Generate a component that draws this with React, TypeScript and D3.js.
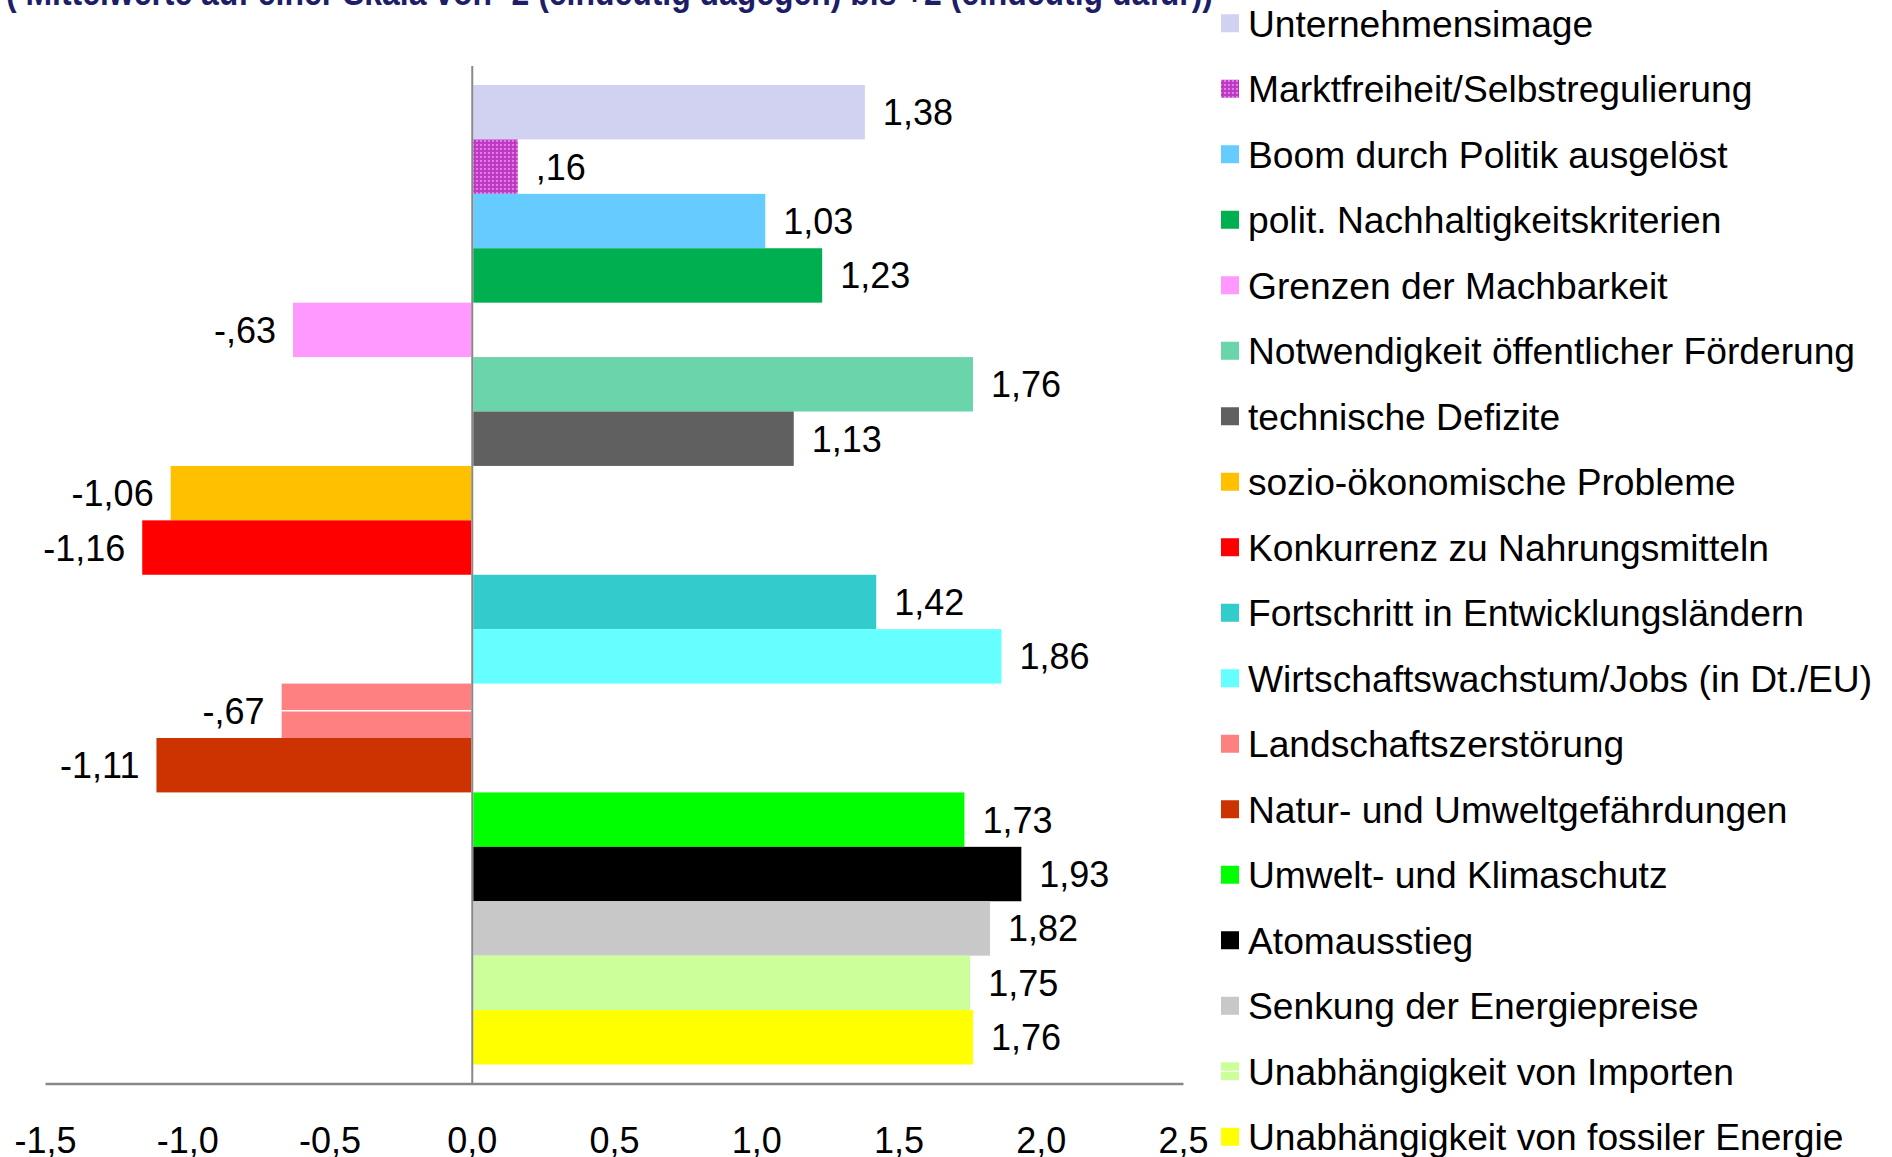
import React from 'react';
import * as d3 from 'd3';

const categories = [
  'Unternehmensimage',
  'Marktfreiheit/Selbstregulierung',
  'Boom durch Politik ausgelöst',
  'polit. Nachhaltigkeitskriterien',
  'Grenzen der Machbarkeit',
  'Notwendigkeit öffentlicher Förderung',
  'technische Defizite',
  'sozio-ökonomische Probleme',
  'Konkurrenz zu Nahrungsmitteln',
  'Fortschritt in Entwicklungsländern',
  'Wirtschaftswachstum/Jobs (in Dt./EU)',
  'Landschaftszerstörung',
  'Natur- und Umweltgefährdungen',
  'Umwelt- und Klimaschutz',
  'Atomausstieg',
  'Senkung der Energiepreise',
  'Unabhängigkeit von Importen',
  'Unabhängigkeit von fossiler Energie',
];

const values = [1.38, 0.16, 1.03, 1.23, -0.63, 1.76, 1.13, -1.06, -1.16, 1.42, 1.86, -0.67, -1.11, 1.73, 1.93, 1.82, 1.75, 1.76];

const colors = [
  '#d1d1f2', 'url(#dots)', '#66ccff', '#00b050', '#ff99ff', '#6ad4aa', '#606060', '#ffc000', '#ff0000',
  '#33cccc', '#66ffff', '#ff8080', '#cc3300', '#00ff00', '#000000', '#c8c8c8', '#ccff99', '#ffff00',
];

const tickValues = [-1.5, -1.0, -0.5, 0.0, 0.5, 1.0, 1.5, 2.0, 2.5];

const title = '( Mittelwerte auf einer Skala von -2 (eindeutig dagegen) bis +2 (eindeutig dafür))';

const W = 1892;
const H = 1157;
const font = '"Liberation Sans", Arial, sans-serif';

// 1,38 / ,16 / -,63 / -1,06 like the SPSS output
const fmtValue = (v: number) => {
  const s = Math.abs(v).toFixed(2).replace('.', ',').replace(/^0,/, ',');
  return (v < 0 ? '-' : '') + s;
};
const fmtTick = (v: number) => v.toFixed(1).replace('.', ',');

const App = () => {
  const x = d3.scaleLinear().domain([-1.5, 2.5]).range([45.5, 1183.5]);
  const y = d3.scaleBand<string>().domain(categories).range([85, 1064.5]).padding(0);
  const axisY = 1084;
  const legendY = d3.scaleBand<string>().domain(categories).range([-9.5, 1169.5]);

  return (
    <svg width={W} height={H} style={{ position: 'absolute', left: 0, top: 0 }} fontFamily={font}>
      <defs>
        <pattern id="dots" width={4} height={4} patternUnits="userSpaceOnUse">
          <rect width={4} height={4} fill="#c03cc4" />
          <rect x={0} y={0} width={2} height={2} fill="#e07ae6" />
          <rect x={2} y={2} width={1} height={1} fill="#a828b0" />
        </pattern>
      </defs>
      <rect width={W} height={H} fill="#fff" />

      <text x={6} y={5} fontSize={36} fontWeight="bold" fill="#1e1e68" textLength={1207} lengthAdjust="spacingAndGlyphs">
        {title}
      </text>

      {categories.map((c, i) => {
        const v = values[i];
        const x0 = v < 0 ? x(v) : x(0) + 1;
        const w = Math.abs(x(v) - x(0)) - 1;
        const yy = y(c)!;
        return (
          <g key={c}>
            <rect x={x0} y={yy} width={w} height={y.bandwidth()} fill={colors[i]} />
            {c === 'Landschaftszerstörung' && (
              <line x1={x0} x2={x0 + w} y1={yy + y.bandwidth() / 2} y2={yy + y.bandwidth() / 2} stroke="#fff" strokeWidth={1.5} />
            )}
            <text
              x={v < 0 ? x(v) - 17 : x(v) + 18}
              y={yy + y.bandwidth() / 2}
              dy="0.36em"
              fontSize={36}
              textAnchor={v < 0 ? 'end' : 'start'}
              fill="#000"
            >
              {fmtValue(v)}
            </text>
          </g>
        );
      })}

      <line x1={x(0)} x2={x(0)} y1={66} y2={axisY} stroke="#888" strokeWidth={2} />
      <line x1={x(-1.5)} x2={x(2.5)} y1={axisY} y2={axisY} stroke="#888" strokeWidth={2.5} />

      {tickValues.map(t => (
        <text key={t} x={x(t)} y={1153} fontSize={36} textAnchor="middle" fill="#000">
          {fmtTick(t)}
        </text>
      ))}

      {categories.map((c, i) => {
        const cy = legendY(c)! + legendY.bandwidth() / 2;
        return (
          <g key={'lg' + c}>
            <rect x={1221} y={cy - 9} width={18} height={18} fill={colors[i]} />
            {c === 'Unabhängigkeit von Importen' && (
              <line x1={1221} x2={1239} y1={cy} y2={cy} stroke="#fff" strokeWidth={1} />
            )}
            <text x={1248} y={cy} dy="0.36em" fontSize={37.2} fill="#000">
              {c}
            </text>
          </g>
        );
      })}
    </svg>
  );
};

export default App;
